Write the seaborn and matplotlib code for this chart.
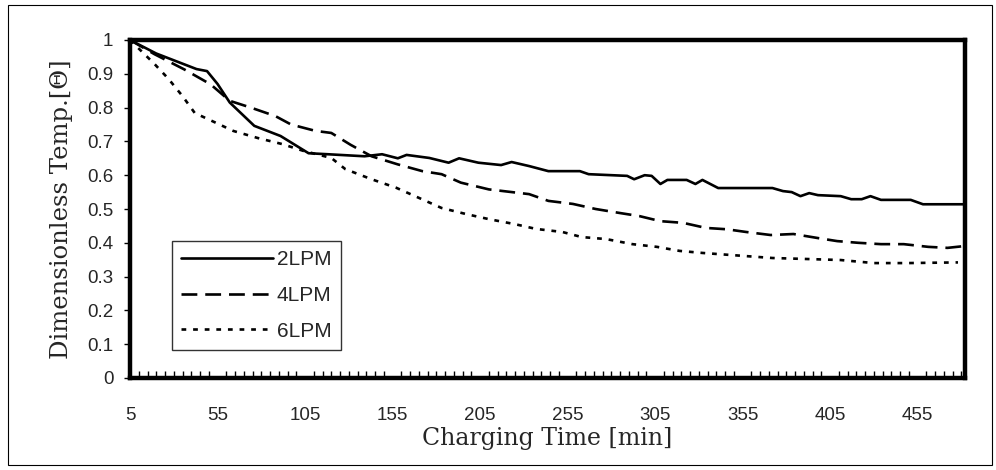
import numpy as np
import pandas as pd
import seaborn as sns
import matplotlib
matplotlib.use("Agg")
import matplotlib.pyplot as plt
from matplotlib.patches import Rectangle
from matplotlib.ticker import MultipleLocator, FixedLocator

# ---- data ----
t_2lpm = [5, 20, 35, 43, 49, 55, 62, 76, 91, 107, 118, 139, 149, 158, 163, 176, 187, 193, 204,
          217, 223, 233, 244, 262, 267, 289, 293, 299, 303, 308, 312, 323, 328, 332, 341, 358,
          372, 378, 383, 388, 393, 398, 411, 417, 423, 428, 434, 451, 458, 481]
v_2lpm = [1.0, 0.96, 0.93, 0.914, 0.908, 0.87, 0.815, 0.746, 0.716, 0.665, 0.662, 0.656, 0.662,
          0.65, 0.66, 0.651, 0.637, 0.65, 0.637, 0.63, 0.639, 0.627, 0.612, 0.612, 0.603, 0.598,
          0.588, 0.60, 0.598, 0.574, 0.586, 0.586, 0.574, 0.586, 0.562, 0.562, 0.562, 0.553,
          0.55, 0.538, 0.547, 0.541, 0.538, 0.529, 0.529, 0.538, 0.527, 0.527, 0.514, 0.514]

t_4lpm = [5, 19, 36, 51, 62, 74, 88, 97, 111, 120, 131, 143, 158, 172, 183, 194, 210, 233, 244,
          258, 271, 285, 296, 308, 321, 334, 346, 357, 371, 384, 398, 409, 421, 434, 447, 461,
          472, 481]
v_4lpm = [1.0, 0.958, 0.913, 0.869, 0.82, 0.80, 0.775, 0.75, 0.731, 0.725, 0.69, 0.656, 0.632,
          0.612, 0.603, 0.578, 0.558, 0.544, 0.524, 0.515, 0.50, 0.488, 0.479, 0.464, 0.459,
          0.444, 0.44, 0.432, 0.423, 0.426, 0.414, 0.405, 0.40, 0.396, 0.396, 0.388, 0.385, 0.39]

t_6lpm = [5, 19, 27, 35, 42, 52, 64, 78, 92, 104, 120, 128, 143, 157, 170, 183, 197, 210, 225,
          237, 252, 263, 277, 292, 306, 319, 332, 348, 372, 392, 411, 430, 449, 478]
v_6lpm = [1.0, 0.929, 0.885, 0.834, 0.784, 0.76, 0.731, 0.71, 0.692, 0.672, 0.651, 0.618, 0.588,
          0.563, 0.533, 0.503, 0.485, 0.47, 0.455, 0.441, 0.432, 0.417, 0.411, 0.396, 0.388,
          0.376, 0.37, 0.364, 0.355, 0.352, 0.349, 0.34, 0.34, 0.342]

series_names = ["2LPM", "4LPM", "6LPM"]
x_ticks = [5, 55, 105, 155, 205, 255, 305, 355, 405, 455]
y_ticks = [0, 0.1, 0.2, 0.3, 0.4, 0.5, 0.6, 0.7, 0.8, 0.9, 1.0]
y_tick_labels = ["0", "0.1", "0.2", "0.3", "0.4", "0.5", "0.6", "0.7", "0.8", "0.9", "1"]

sns.set_theme(style="white")
plt.rcParams["font.family"] = ["Liberation Sans", "DejaVu Sans"]

fig = plt.figure(figsize=(9.96, 4.70), dpi=100)
ax = fig.add_axes([130 / 996, 1 - 378 / 470, (965 - 130) / 996, (378 - 40) / 470])

styles = {
    "2LPM": dict(linestyle="-", linewidth=1.9),
    "4LPM": dict(linestyle=(0, (6, 3)), linewidth=1.9),
    "6LPM": dict(linestyle=(0, (1.8, 2.6)), linewidth=1.9),
}
for name, t, v in zip(series_names, [t_2lpm, t_4lpm, t_6lpm], [v_2lpm, v_4lpm, v_6lpm]):
    df = pd.DataFrame({"t": t, "v": v})
    sns.lineplot(data=df, x="t", y="v", ax=ax, color="black", label=name, **styles[name])

ax.set_xlim(5, 482)
ax.set_ylim(0, 1.0)
ax.xaxis.set_major_locator(FixedLocator(x_ticks))
ax.xaxis.set_minor_locator(MultipleLocator(5))
ax.set_xticklabels([str(x) for x in x_ticks], fontsize=13.5)
ax.set_yticks(y_ticks)
ax.set_yticklabels(y_tick_labels, fontsize=13.5)
ax.tick_params(axis="x", which="major", direction="in", length=5, width=1, pad=21, color="black")
ax.tick_params(axis="x", which="minor", direction="in", length=5, width=1, color="black", bottom=True)
ax.tick_params(axis="y", which="major", direction="out", length=4, width=1, pad=8, color="black", left=True)

for sp in ax.spines.values():
    sp.set_linewidth(3.2)
    sp.set_color("black")

ax.set_xlabel("Charging Time [min]", family=["DejaVu Serif"], fontsize=17, labelpad=2)
ax.set_ylabel("Dimensionless Temp.[\u0398]", family=["DejaVu Serif"], fontsize=17.5, labelpad=10)

leg = ax.legend(loc="lower left", bbox_to_anchor=(0.05, 0.083), frameon=True, fancybox=False,
                edgecolor="black", fontsize=15, handlelength=4.4, handletextpad=0.2,
                borderpad=0.45, labelspacing=0.8, borderaxespad=0)
leg.get_frame().set_linewidth(1.0)

fig.patches.append(Rectangle((8 / 996, 1 - 465 / 470), (992 - 8) / 996, (465 - 5) / 470,
                             transform=fig.transFigure, fill=False, edgecolor="black",
                             linewidth=0.8))

fig.savefig("out.png", dpi=100)
